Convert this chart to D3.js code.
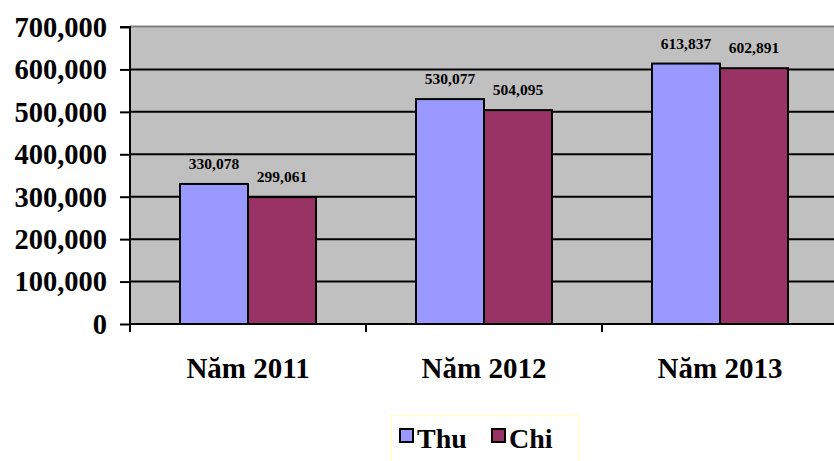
<!DOCTYPE html>
<html><head><meta charset="utf-8">
<script src="https://cdn.jsdelivr.net/npm/d3@7"></script>
<style>body{margin:0;background:#fff}svg{display:block}</style>
</head><body>
<svg id="c" width="834" height="461"></svg>
<script>
const categories = ["Năm 2011", "Năm 2012", "Năm 2013"];
const seriesNames = ["Thu", "Chi"];
const thuValues = [330078, 530077, 613837];
const chiValues = [299061, 504095, 602891];
const yTicks = [0, 100000, 200000, 300000, 400000, 500000, 600000, 700000];
const colors = ["#9999FF", "#993366"];

(function () {
const svg = d3.select("#c");
const pL = 130, pR = 838, pT = 27, pB = 324;
const FF = '"Liberation Serif"';
function txt(sel, size) {
  return sel.style("font-family", FF).style("font-weight", "bold").style("font-size", size + "px").style("fill", "#000");
}

const y = d3.scaleLinear().domain([0, 700000]).range([pB, pT]);
const x0 = d3.scaleBand().domain(categories).range([pL, pR]).paddingInner(0).paddingOuter(0);
const x1 = d3.scaleBand().domain(seriesNames).range([50, x0.bandwidth() - 50]).padding(0);

svg.append("rect").attr("x", pL).attr("y", pT).attr("width", pR - pL).attr("height", pB - pT)
  .attr("fill", "#C0C0C0");
svg.append("line").attr("x1", pL).attr("x2", pR).attr("y1", pT - 0.5).attr("y2", pT - 0.5)
  .attr("stroke", "#808080").attr("stroke-width", 2);

svg.append("g").selectAll("line").data(yTicks.filter(d => d > 0 && d < 700000)).join("line")
  .attr("x1", pL).attr("x2", pR).attr("y1", d => y(d)).attr("y2", d => y(d))
  .attr("stroke", "#000").attr("stroke-width", 2);

const data = categories.map((c, i) => ({c, vals: [thuValues[i], chiValues[i]]}));
const g = svg.append("g").selectAll("g").data(data).join("g")
  .attr("transform", d => `translate(${x0(d.c)},0)`);
g.selectAll("rect").data(d => d.vals.map((v, j) => ({v, s: seriesNames[j], j}))).join("rect")
  .attr("x", d => x1(d.s)).attr("width", x1.bandwidth())
  .attr("y", d => y(d.v)).attr("height", d => y(0) - y(d.v))
  .attr("fill", d => colors[d.j]).attr("stroke", "#000").attr("stroke-width", 2);
txt(g.selectAll("text").data(d => d.vals.map((v, j) => ({v, s: seriesNames[j], j}))).join("text")
  .attr("x", d => x1(d.s) + x1.bandwidth() / 2).attr("y", d => y(d.v) - 15)
  .attr("text-anchor", "middle"), 15.5).text(d => d3.format(",")(d.v));

const yAxis = d3.axisLeft(y).tickValues(yTicks).tickFormat(d3.format(",")).tickSize(10).tickPadding(13);
const ya = svg.append("g").attr("transform", `translate(${pL},0)`).call(yAxis);
ya.select(".domain").attr("stroke", "#000").attr("stroke-width", 2).attr("d", `M-10,${pT}H0V${pB + 8}`);
ya.selectAll(".tick line").attr("stroke", "#000").attr("stroke-width", 2);
txt(ya.selectAll(".tick text"), 28.5).attr("dy", "0.33em");

svg.append("line").attr("x1", pL).attr("x2", pR).attr("y1", pB).attr("y2", pB)
  .attr("stroke", "#000").attr("stroke-width", 2);
const xa = svg.append("g");
xa.selectAll("line").data(categories.slice(1)).join("line")
  .attr("x1", d => x0(d)).attr("x2", d => x0(d)).attr("y1", pB).attr("y2", pB + 8)
  .attr("stroke", "#000").attr("stroke-width", 2);
txt(xa.selectAll("text").data(categories).join("text")
  .attr("x", d => x0(d) + x0.bandwidth() / 2).attr("y", 378)
  .attr("text-anchor", "middle"), 29).text(d => d);

const lg = svg.append("g");
lg.append("rect").attr("x", 391).attr("y", 415.5).attr("width", 188).attr("height", 50)
  .attr("fill", "#fff").attr("stroke", "#FFFFCC").attr("stroke-width", 1.5);
const legX = [400, 492];
seriesNames.forEach((s, i) => {
  lg.append("rect").attr("x", legX[i]).attr("y", 429).attr("width", 13).attr("height", 13)
    .attr("fill", colors[i]).attr("stroke", "#000").attr("stroke-width", 2);
  txt(lg.append("text").attr("x", legX[i] + 17).attr("y", 448), 28).text(s);
});
})();
</script>
</body></html>
